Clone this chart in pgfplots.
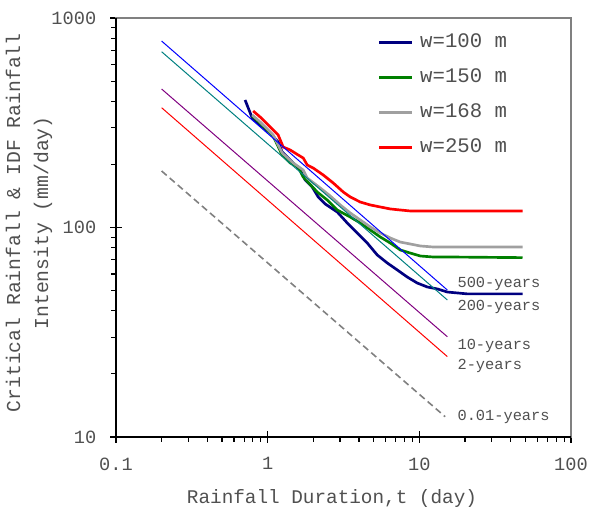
\documentclass[border=0pt]{standalone}
\usepackage{fontspec}
\setmainfont{Liberation Mono}
\usepackage{pgfplots}
\pgfplotsset{compat=1.18}
\definecolor{txt}{HTML}{505050}
\definecolor{navyc}{HTML}{000080}
\definecolor{greenc}{HTML}{008000}
\definecolor{grayc}{HTML}{A0A0A0}
\definecolor{redc}{HTML}{FF0000}
\definecolor{bluec}{HTML}{0000FF}
\definecolor{tealc}{HTML}{008080}
\definecolor{purplec}{HTML}{800080}
\definecolor{dashc}{HTML}{808080}
\definecolor{framec}{HTML}{808080}
\begin{document}
\begin{tikzpicture}
\path[use as bounding box] (-87pt,-54pt) rectangle (355.5pt,327.75pt);
\begin{axis}[
  at={(0pt,0pt)}, anchor=south west,
  width=341.25pt, height=314.25pt, scale only axis,
  xmode=log, ymode=log,
  xmin=0.1, xmax=100, ymin=10, ymax=1000,
  xtick={0.1,1,10,100}, xticklabels={0.1,1,10,100},
  ytick={10,100,1000}, yticklabels={10,100,1000},
  minor xtick={0.2,0.3,0.4,0.5,0.6,0.7,0.8,0.9,2,3,4,5,6,7,8,9,20,30,40,50,60,70,80,90},
  minor ytick={20,30,40,50,60,70,80,90,200,300,400,500,600,700,800,900},
  tick pos=left,
  tick align=center,
  major tick length=9pt,
  minor tick length=3.75pt,
  minor x tick style={yshift=-1.875pt},
  minor y tick style={xshift=-1.875pt},
  tick style={black, line width=0.8pt},
  axis line style={draw=framec, line width=0.8pt},
  /pgf/number format/assume math mode=true,
  every tick label/.append style={font=\fontsize{14}{16}\selectfont, text=txt},
  xticklabel style={yshift=-7.5pt},
  yticklabel style={xshift=-6.75pt},
  xlabel={Rainfall Duration,t (day)},
  ylabel={Critical Rainfall \& IDF Rainfall\\Intensity (mm/day)},
  xlabel style={at={(axis description cs:0.4747,-0.148)}, anchor=center, font=\fontsize{14.5}{17}\selectfont, text=txt},
  ylabel style={at={(axis description cs:-0.1912,0.511)}, anchor=center, align=center, font=\fontsize{14.8}{21}\selectfont, text=txt},
  legend style={at={(axis description cs:0.5750,0.962)}, anchor=north west, draw=none, fill=none, inner sep=0pt, row sep=14.25pt, column sep=5pt, font=\fontsize{15.5}{17}\selectfont, text=txt, nodes={inner sep=0pt, text height=10pt, text depth=2pt}},
  legend cell align=left,
  legend image code/.code={\draw[#1] (0pt,0pt) -- (24.75pt,0pt);},
  clip=false,
]
\addplot[navyc, line width=2pt] coordinates {
(0.710,406) (0.791,333.2) (0.892,308.5) (1.039,282.6) (1.173,255.9) (1.246,229.3)
(1.408,210.0) (1.639,188.1) (1.769,168.5) (1.966,156.1) (2.154,139.9) (2.396,129.5)
(2.875,118.6) (3.348,105.1) (3.897,94.1) (4.537,84.3) (5.282,73.9) (6.149,67.7)
(7.158,62.7) (8.333,58.0) (9.70,54.3) (11.29,52.0) (13.15,50.9) (15.30,49.2)
(17.81,48.7) (20.74,48.2) (47.9,48.2)};
\addlegendentry{w=100 m}
\addplot[greenc, line width=2pt] coordinates {
(0.791,340.6) (0.892,315.3) (1.087,273.4) (1.246,221.8) (1.408,203.2) (1.590,194.5)
(1.716,174.2) (2.122,147.7) (2.470,135.3) (2.875,121.2) (3.504,112.2) (4.079,105.1)
(4.750,97.3) (5.528,90.1) (6.437,84.3) (7.493,78.1) (8.723,75.5) (10.15,73.1)
(12.37,72.3) (16.02,72.3) (47.9,71.8)};
\addlegendentry{w=150 m}
\addplot[grayc, line width=2pt] coordinates {
(0.791,344.4) (0.892,318.8) (1.087,276.4) (1.246,226.8) (1.474,203.2) (1.716,188.1)
(1.823,172.3) (2.221,154.4) (2.585,141.4) (3.010,128.1) (3.504,117.3) (4.079,108.6)
(4.750,100.6) (5.528,94.1) (6.437,89.1) (7.493,85.2) (8.723,83.4) (10.15,81.6)
(12.37,80.7) (47.9,80.7)};
\addlegendentry{w=168 m}
\addplot[redc, line width=2pt] coordinates {
(0.802,359.8) (0.892,336.9) (1.039,301.8) (1.173,276.4) (1.266,242.2) (1.408,234.4)
(1.590,221.8) (1.716,214.6) (1.823,198.8) (1.996,192.3) (2.325,178.1) (2.706,163.1)
(3.151,147.7) (3.504,139.9) (4.079,132.3) (4.750,128.1) (5.528,125.3) (6.437,122.6)
(7.493,121.2) (8.723,119.9) (47.9,119.9)};
\addlegendentry{w=250 m}
\addplot[bluec, line width=0.75pt, forget plot] coordinates {(0.2,776) (15.3,50.3)};
\addplot[tealc, line width=0.75pt, forget plot] coordinates {(0.2,690) (15.3,45.1)};
\addplot[purplec, line width=0.75pt, forget plot] coordinates {(0.2,458) (15.3,30.1)};
\addplot[redc, line width=0.75pt, forget plot] coordinates {(0.2,373) (15.3,24.2)};
\addplot[dashc, line width=1.2pt, dash pattern=on 5pt off 3pt, forget plot] coordinates {(0.2,186) (14.8,12.5)};
\node[anchor=west, inner sep=0pt, font=\fontsize{11.5}{13}\selectfont, text=txt] at (axis cs:17.8,53.7) {500-years};
\node[anchor=west, inner sep=0pt, font=\fontsize{11.5}{13}\selectfont, text=txt] at (axis cs:17.8,41.9) {200-years};
\node[anchor=west, inner sep=0pt, font=\fontsize{11.5}{13}\selectfont, text=txt] at (axis cs:17.8,27.2) {10-years};
\node[anchor=west, inner sep=0pt, font=\fontsize{11.5}{13}\selectfont, text=txt] at (axis cs:17.8,21.8) {2-years};
\node[anchor=west, inner sep=0pt, font=\fontsize{11.5}{13}\selectfont, text=txt] at (axis cs:17.8,12.5) {0.01-years};
\end{axis}
\draw[black, line width=0.8pt] (0pt,314.25pt) -- (0pt,0pt) -- (341.25pt,0pt);
\end{tikzpicture}
\end{document}
